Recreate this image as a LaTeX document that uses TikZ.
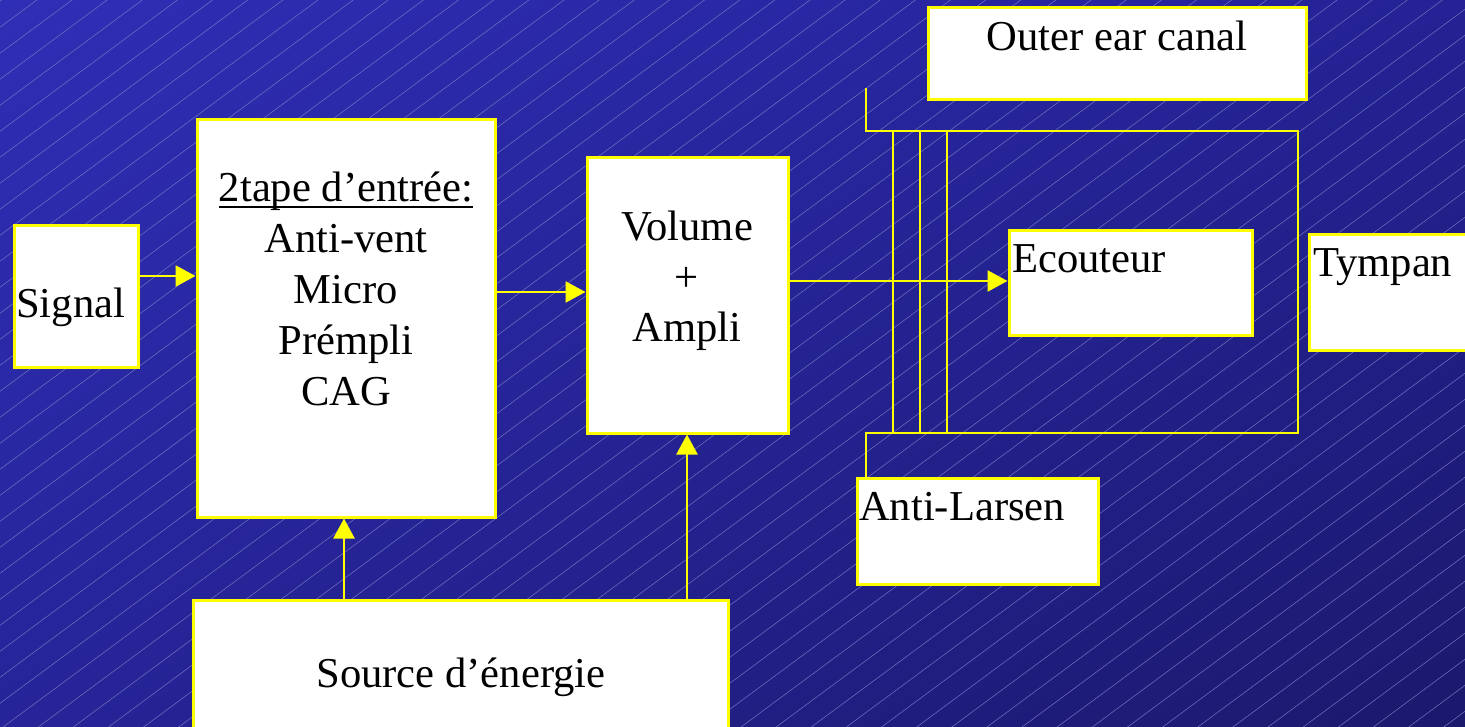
\documentclass[tikz,border=0pt]{standalone}
\usepackage{fontspec}
\setmainfont{Liberation Serif}
\usetikzlibrary{arrows.meta,shadings}
\definecolor{bgTL}{RGB}{47,46,182}
\definecolor{bgTR}{RGB}{36,34,148}
\definecolor{bgBL}{RGB}{38,36,152}
\definecolor{bgBR}{RGB}{27,25,108}
\definecolor{hatch}{RGB}{115,115,195}
\definecolor{ylw}{RGB}{255,255,0}
\newcommand\myul[1]{\setbox0\hbox{#1}\rlap{\rule[-7pt]{\wd0}{2.5pt}}#1}
\begin{document}
\begin{tikzpicture}[x=1pt,y=-1pt,
  box/.style={draw=ylw,fill=white,line width=3pt,inner sep=0pt,rectangle},
  txt/.style={inner sep=0pt,font=\fontsize{42.6}{51}\selectfont,text=black},
  wire/.style={draw=ylw,line width=2.5pt},
  arr/.style={wire,-{Triangle[length=20pt,width=21pt]}}]
\useasboundingbox (0,0) rectangle (1465,727);
% background
\shade[upper left=bgTL,upper right=bgTR,lower left=bgBL,lower right=bgBR] (0,0) rectangle (1465,727);
\begin{scope}
\clip (0,0) rectangle (1465,727);
\foreach \b in {1.3,27.3,...,1900} \draw[hatch,line width=0.5pt] (0,\b) -- (1465,{\b-1084});
\end{scope}
% boxes
\node[box,minimum width=124pt,minimum height=142pt] (sig) at (76,297) {};
\node[box,minimum width=298pt,minimum height=397pt] (ent) at (346,318.5) {};
\node[box,minimum width=201pt,minimum height=275pt] (vol) at (687.5,295.5) {};
\node[box,minimum width=535pt,minimum height=160pt] (src) at (460.5,680) {};
\node[box,minimum width=378pt,minimum height=92pt] (out) at (1117,54) {};
\node[box,minimum width=243pt,minimum height=105pt] (eco) at (1130.5,283.5) {};
\node[box,minimum width=191pt,minimum height=116pt] (tym) at (1404.5,293) {};
\node[box,minimum width=241pt,minimum height=106pt] (ant) at (977.5,531) {};
% texts
\node[txt,anchor=base west] (sigT) at (16,318) {Signal};
\node[txt,align=center,anchor=base] (entT) at (346,405) {\myul{2tape d’entrée:}\\Anti-vent\\Micro\\Prémpli\\CAG};
\node[txt,align=center,anchor=base] (volT) at (687,342) {Volume\\+\\Ampli};
\node[txt,anchor=base] (srcT) at (461,687) {Source d’énergie};
\node[txt,anchor=base] (outT) at (1117,51) {Outer ear canal};
\node[txt,anchor=base west] (ecoT) at (1012,273) {Ecouteur};
\node[txt,anchor=base west] (tymT) at (1313,277) {Tympan};
\node[txt,anchor=base west] (antT) at (859,520) {Anti-Larsen};
% helper coordinates
\coordinate (ya) at (0,276);
\coordinate (yb) at (0,292);
\coordinate (yc) at (0,281);
\coordinate (xa) at (344,0);
\coordinate (xb) at (687,0);
\coordinate (c0) at (866,88);
\coordinate (c1) at (866,131);
\coordinate (c2) at (1298,131);
\coordinate (c3) at (1298,433);
\coordinate (c4) at (866,433);
% connectors
\draw[arr] (sig.east |- ya) -- (ent.west |- ya);
\draw[arr] (ent.east |- yb) -- (vol.west |- yb);
\draw[arr] (vol.east |- yc) -- (eco.west |- yc);
\draw[arr] (src.north -| xa) -- (ent.south -| xa);
\draw[arr] (src.north -| xb) -- (vol.south -| xb);
% canal
\draw[wire] (c0) -- (c1) -- (c2) -- (c3) -- (c4) -- (ant.north -| c4);
\foreach \x in {893,920,947} \draw[wire] (\x,131) -- (\x,433);
\end{tikzpicture}
\end{document}
